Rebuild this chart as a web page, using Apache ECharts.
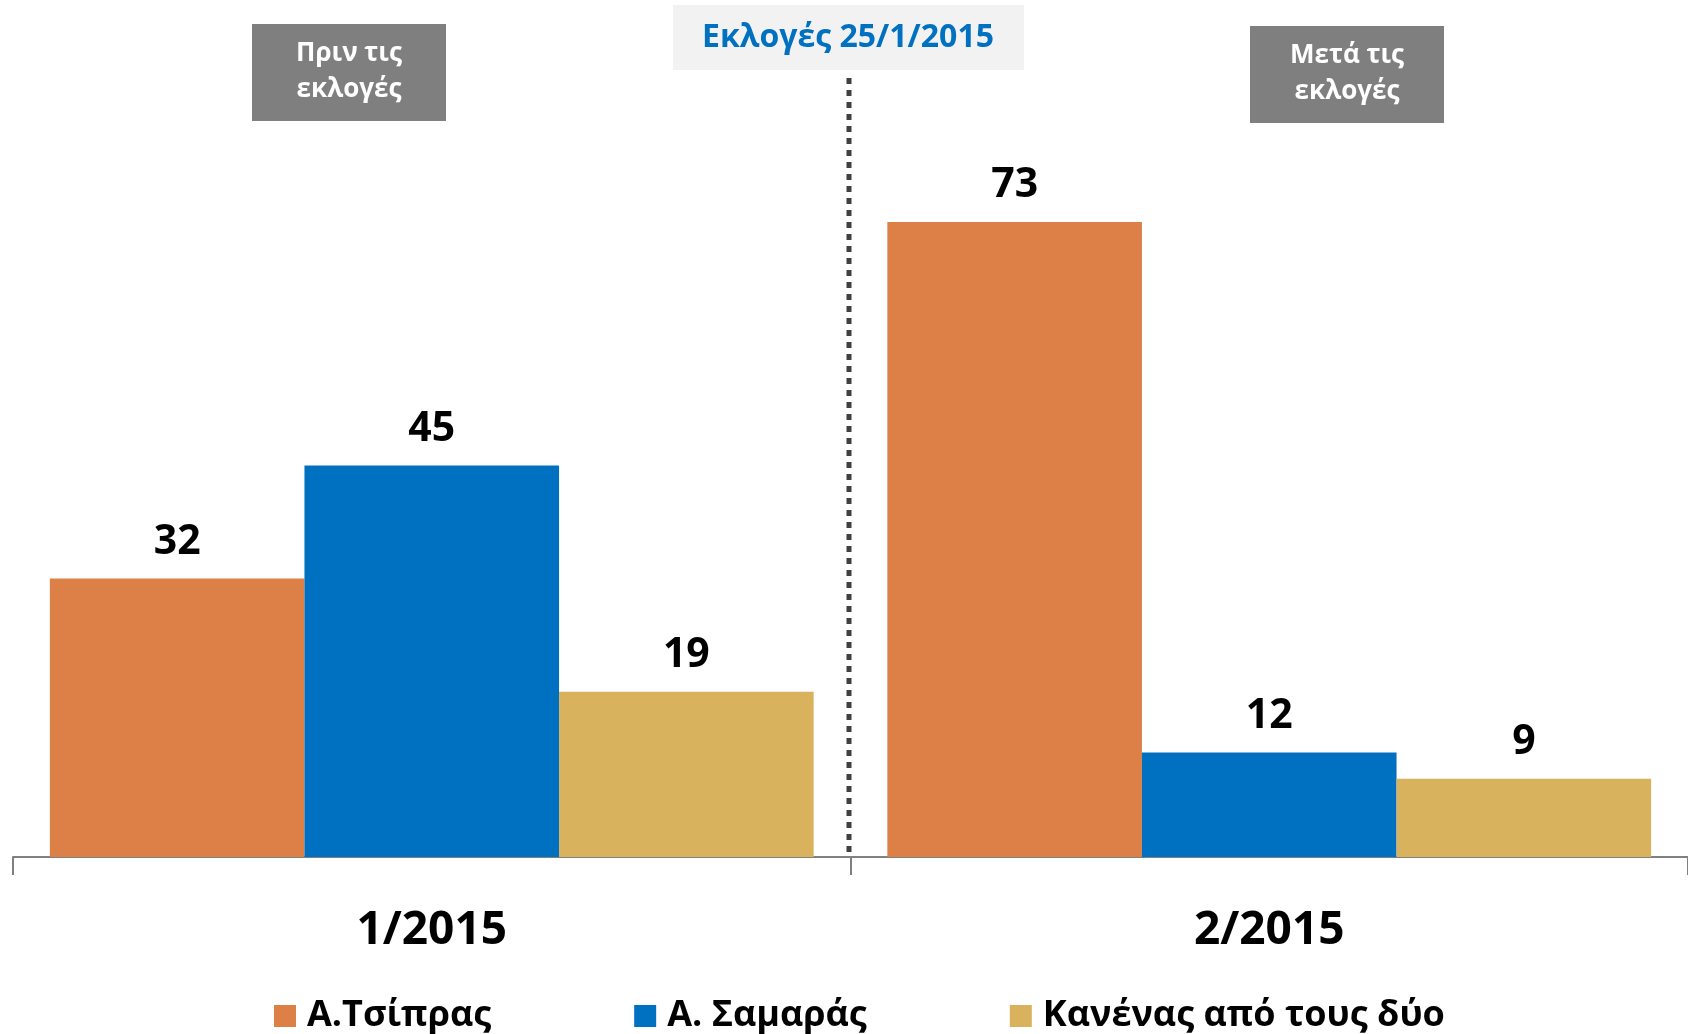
<!DOCTYPE html>
<html>
<head>
<meta charset="utf-8">
<script src="https://cdn.jsdelivr.net/npm/echarts@6/dist/echarts.min.js"></script>
<style>
  html, body { margin: 0; padding: 0; background: #fff; }
  #chart { width: 1688px; height: 1034px; }
</style>
</head>
<body>
<div id="chart"></div>
<script>
const categories = ['1/2015', '2/2015']
const seriesNames = ['Α.Τσίπρας', 'Α. Σαμαράς', 'Κανένας από τους δύο']
const tsipras = [32, 73]
const samaras = [45, 12]
const kanenas = [19, 9]
const colors = ['#dd8047', '#0070c0', '#d8b25c']

const font = '"Open Sans", "Noto Sans", "DejaVu Sans", sans-serif'
const chart = echarts.init(document.getElementById('chart'))

const values = [tsipras, samaras, kanenas]
const series = seriesNames.map((name, i) => ({
  name: name,
  type: 'bar',
  data: values[i],
  barGap: '0%',
  barCategoryGap: '8.8%',
  itemStyle: { color: colors[i] },
  label: {
    show: true,
    position: 'top',
    distance: 16,
    color: '#000',
    fontFamily: font,
    fontWeight: 'bold',
    fontSize: 41
  }
}))

const option = {
  animation: false,
  textStyle: { fontFamily: font },
  grid: { left: 13, right: 0, top: 161, bottom: 177 },
  legend: {
    data: seriesNames,
    left: 269,
    top: 993,
    itemWidth: 22,
    itemHeight: 22,
    itemGap: 143,
    icon: 'rect',
    textStyle: { fontFamily: font, fontWeight: 'bold', fontSize: 36, color: '#000', padding: [0, 0, 0, 6] }
  },
  xAxis: {
    type: 'category',
    data: categories,
    axisLine: { lineStyle: { color: '#808080', width: 2 } },
    axisTick: { show: true, length: 18, lineStyle: { color: '#808080', width: 2 } },
    axisLabel: {
      color: '#000',
      fontFamily: font,
      fontWeight: 'bold',
      fontSize: 46,
      lineHeight: 46,
      margin: 51
    }
  },
  yAxis: {
    type: 'value',
    min: 0,
    max: 80,
    show: false,
    splitLine: { show: false }
  },
  series: series,
  graphic: [
    // election divider
    {
      type: 'line',
      shape: { x1: 849, y1: 78, x2: 849, y2: 857 },
      style: { stroke: '#404040', lineWidth: 5, lineDash: [6, 6] },
      z: 10
    },
    {
      type: 'rect',
      shape: { x: 673, y: 5, width: 351, height: 65 },
      style: { fill: '#f2f2f2' }
    },
    {
      type: 'text',
      x: 848, y: 38,
      style: {
        text: 'Εκλογές 25/1/2015',
        fill: '#0070c0',
        font: 'bold 32px ' + font,
        align: 'center',
        verticalAlign: 'middle'
      }
    },
    {
      type: 'rect',
      shape: { x: 252, y: 24, width: 194, height: 97 },
      style: { fill: '#7f7f7f' }
    },
    {
      type: 'text',
      x: 349, y: 72,
      style: {
        text: 'Πριν τις\nεκλογές',
        fill: '#fff',
        font: 'bold 26px ' + font,
        lineHeight: 36,
        align: 'center',
        verticalAlign: 'middle'
      }
    },
    {
      type: 'rect',
      shape: { x: 1250, y: 26, width: 194, height: 97 },
      style: { fill: '#7f7f7f' }
    },
    {
      type: 'text',
      x: 1347, y: 74,
      style: {
        text: 'Μετά τις\nεκλογές',
        fill: '#fff',
        font: 'bold 26px ' + font,
        lineHeight: 36,
        align: 'center',
        verticalAlign: 'middle'
      }
    }
  ]
}

chart.setOption(option)
</script>
</body>
</html>
